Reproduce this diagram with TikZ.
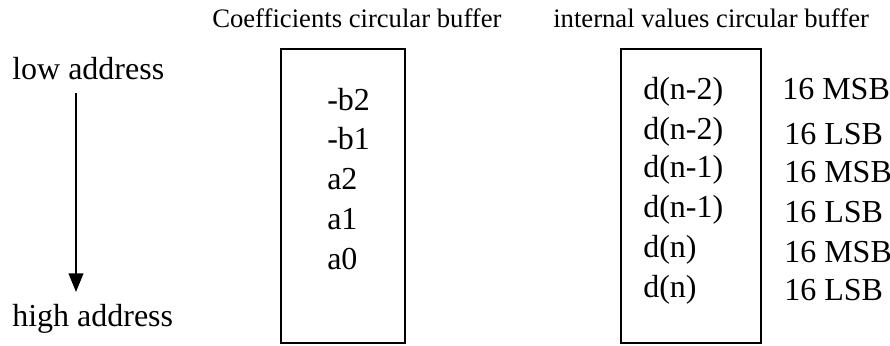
\documentclass[tikz,border=0pt]{standalone}
\usepackage{fontspec}
\setmainfont{Liberation Serif}
\usetikzlibrary{arrows.meta}
\begin{document}
\begin{tikzpicture}[x=0.75pt,y=-0.75pt,
  lbl/.style={anchor=base west,inner sep=0pt,font=\fontsize{24}{28}\selectfont},
  ttl/.style={anchor=base west,inner sep=0pt,font=\fontsize{20}{24}\selectfont},
  buf/.style={draw,line width=1.5pt}]
\useasboundingbox (0,0) rectangle (890,346);
% titles
\node[ttl] (t1) at (212,28) {Coefficients circular buffer};
\node[ttl] (t2) at (553,28) {internal values circular buffer};
% address arrow
\node[lbl] (low) at (12,80) {low address};
\node[lbl] (high) at (12,326) {high address};
\coordinate (as) at (76,93);
\coordinate (ae) at (76,292);
\draw[line width=1.5pt,-{Triangle[width=11pt,length=14pt]}] (as) -- (ae);
% boxes
\draw[buf] (281,49) rectangle (405,343);
\draw[buf] (621,49) rectangle (761,343);
% coefficients
\node[lbl] (c1) at (327,111) {-b2};
\node[lbl] (c2) at (327,150) {-b1};
\node[lbl] (c3) at (327,190) {a2};
\node[lbl] (c4) at (327,229) {a1};
\node[lbl] (c5) at (327,269) {a0};
% internal values
\node[lbl] (d1) at (643,100) {d(n-2)};
\node[lbl] (d2) at (643,140) {d(n-2)};
\node[lbl] (d3) at (643,178) {d(n-1)};
\node[lbl] (d4) at (643,218) {d(n-1)};
\node[lbl] (d5) at (643,257) {d(n)};
\node[lbl] (d6) at (643,297) {d(n)};
% widths
\node[lbl] (w1) at (782,100) {16 MSB};
\node[lbl] (w2) at (784,145) {16 LSB};
\node[lbl] (w3) at (784,183) {16 MSB};
\node[lbl] (w4) at (784,222) {16 LSB};
\node[lbl] (w5) at (784,262) {16 MSB};
\node[lbl] (w6) at (784,300) {16 LSB};
\end{tikzpicture}
\end{document}
